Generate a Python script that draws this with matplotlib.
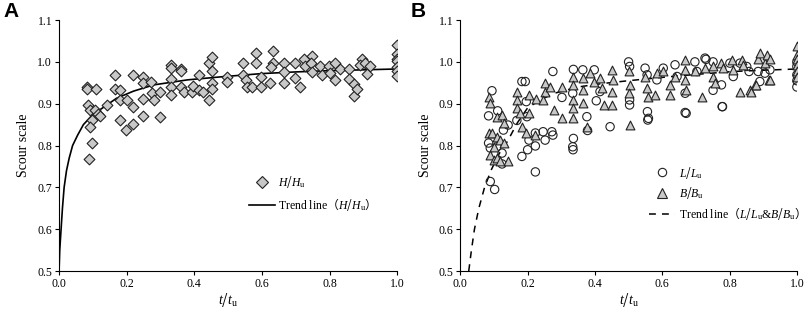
import matplotlib
matplotlib.use("Agg")
import matplotlib.pyplot as plt
from matplotlib.lines import Line2D

plt.rcParams['font.family'] = ['Liberation Serif', 'Noto Sans CJK SC']
plt.rcParams['mathtext.fontset'] = 'custom'
plt.rcParams['mathtext.it'] = 'Liberation Serif:italic'
plt.rcParams['mathtext.sf'] = 'Liberation Serif'
plt.rcParams['mathtext.rm'] = 'Noto Sans CJK SC'

# panel A: H/Hu
a_t = [0.082, 0.082, 0.108, 0.086, 0.092, 0.106, 0.115, 0.097, 0.121, 0.092, 0.098, 0.089, 0.141,
       0.166, 0.166, 0.18, 0.18, 0.18, 0.197, 0.22, 0.2, 0.22, 0.22, 0.249, 0.249, 0.249, 0.249,
       0.272, 0.274, 0.282, 0.299, 0.299, 0.331, 0.331, 0.331, 0.331, 0.331, 0.361, 0.361, 0.361,
       0.368, 0.392, 0.397, 0.414, 0.414, 0.427, 0.442, 0.452, 0.452, 0.452, 0.452, 0.442, 0.496,
       0.496, 0.545, 0.545, 0.552, 0.555, 0.57, 0.582, 0.582, 0.598, 0.598, 0.634, 0.634, 0.627,
       0.624, 0.664, 0.664, 0.664, 0.698, 0.698, 0.713, 0.723, 0.728, 0.748, 0.746, 0.749, 0.772,
       0.777, 0.797, 0.802, 0.817, 0.817, 0.831, 0.856, 0.856, 0.871, 0.873, 0.881, 0.895, 0.891,
       0.905, 0.91, 0.92, 1.0, 1.0, 1.0, 1.0, 1.0, 1.0, 1.0]
a_h = [0.941, 0.934, 0.935, 0.897, 0.884, 0.885, 0.875, 0.861, 0.871, 0.844, 0.806, 0.768, 0.897,
       0.969, 0.935, 0.933, 0.909, 0.861, 0.837, 0.969, 0.909, 0.892, 0.852, 0.965, 0.949, 0.911,
       0.871, 0.953, 0.925, 0.908, 0.929, 0.868, 0.993, 0.985, 0.959, 0.94, 0.921, 0.983, 0.977,
       0.941, 0.929, 0.929, 0.943, 0.969, 0.933, 0.929, 0.998, 1.012, 0.979, 0.95, 0.935, 0.909,
       0.965, 0.953, 0.997, 0.969, 0.957, 0.94, 0.94, 1.022, 0.997, 0.963, 0.94, 1.027, 0.997,
       0.987, 0.95, 0.997, 0.975, 0.95, 0.998, 0.961, 0.94, 1.006, 0.989, 1.014, 0.997, 0.975,
       0.99, 0.969, 0.99, 0.973, 0.997, 0.957, 0.983, 0.983, 0.959, 0.947, 0.919, 0.935, 1.006,
       0.993, 0.997, 0.971, 0.989, 1.041, 1.019, 1.008, 1.001, 0.987, 0.977, 0.967]
a_trend_t = [0.0, 0.002, 0.006, 0.01, 0.015, 0.022, 0.03, 0.04, 0.055, 0.072, 0.095, 0.12, 0.17,
             0.22, 0.28, 0.38, 0.49, 0.6, 0.7, 0.8, 0.9, 1.0]
a_trend_v = [0.5, 0.55, 0.6, 0.65, 0.7, 0.74, 0.77, 0.8, 0.825, 0.85, 0.87, 0.885, 0.913,
             0.93, 0.945, 0.957, 0.965, 0.972, 0.976, 0.979, 0.981, 0.983]

# panel B: L/Lu (circles)
b_t_l = [0.094, 0.084, 0.111, 0.084, 0.089, 0.109, 0.128, 0.142, 0.168, 0.193, 0.183, 0.196, 0.198,
         0.204, 0.223, 0.223, 0.246, 0.252, 0.272, 0.275, 0.275, 0.302, 0.336, 0.334, 0.336, 0.334,
         0.364, 0.376, 0.378, 0.398, 0.404, 0.415, 0.445, 0.5, 0.503, 0.503, 0.503, 0.549, 0.555,
         0.556, 0.559, 0.584, 0.603, 0.638, 0.644, 0.671, 0.668, 0.697, 0.703, 0.73, 0.751, 0.751,
         0.776, 0.779, 0.801, 0.811, 0.831, 0.851, 0.858, 0.885, 0.905, 0.92, 1.0, 1.0, 1.0, 1.0,
         1.0, 0.089, 0.102, 0.124, 0.124, 0.183, 0.223, 0.2, 0.335, 0.557, 0.668, 0.727, 0.778,
         0.89]
b_l = [0.931, 0.871, 0.883, 0.806, 0.794, 0.797, 0.837, 0.849, 0.86, 0.953, 0.953, 0.905, 0.869,
       0.813, 0.799, 0.83, 0.833, 0.813, 0.833, 0.825, 0.977, 0.915, 0.982, 0.925, 0.817, 0.797,
       0.981, 0.869, 0.836, 0.981, 0.907, 0.929, 0.845, 1.0, 0.989, 0.909, 0.897, 0.985, 0.969,
       0.881, 0.865, 0.957, 0.985, 0.993, 0.965, 0.877, 0.925, 1.0, 0.977, 1.006, 1.0, 0.932,
       0.945, 0.893, 0.997, 0.965, 0.997, 0.989, 0.977, 0.977, 0.973, 0.981, 1.0, 0.989, 0.969,
       0.955, 0.94, 0.714, 0.695, 0.756, 0.782, 0.774, 0.737, 0.79, 0.79, 0.861, 0.879, 1.009,
       0.893, 0.953]

# panel B: B/Bu (triangles)
b_t_b = [0.084, 0.087, 0.109, 0.124, 0.129, 0.084, 0.094, 0.109, 0.119, 0.129, 0.099, 0.089, 0.168,
         0.168, 0.168, 0.178, 0.183, 0.196, 0.203, 0.203, 0.226, 0.223, 0.252, 0.252, 0.247, 0.267,
         0.277, 0.302, 0.302, 0.334, 0.334, 0.336, 0.336, 0.334, 0.364, 0.366, 0.366, 0.376, 0.386,
         0.396, 0.415, 0.42, 0.426, 0.45, 0.455, 0.45, 0.45, 0.5, 0.504, 0.5, 0.503, 0.549, 0.555,
         0.559, 0.579, 0.584, 0.603, 0.623, 0.623, 0.638, 0.668, 0.668, 0.668, 0.671, 0.697, 0.717,
         0.727, 0.751, 0.751, 0.757, 0.776, 0.781, 0.806, 0.811, 0.831, 0.836, 0.841, 0.861, 0.875,
         0.885, 0.89, 0.905, 0.91, 0.92, 0.918, 1.0, 1.0, 1.0, 1.0, 1.0, 1.0, 0.099, 0.109, 0.143,
         0.119, 0.864, 0.88, 0.92]
b_b = [0.917, 0.901, 0.869, 0.873, 0.853, 0.829, 0.829, 0.821, 0.813, 0.806, 0.797, 0.777, 0.927,
       0.909, 0.889, 0.877, 0.845, 0.829, 0.921, 0.877, 0.911, 0.825, 0.949, 0.929, 0.909, 0.941,
       0.885, 0.941, 0.865, 0.965, 0.945, 0.909, 0.889, 0.865, 0.961, 0.933, 0.901, 0.845, 0.973,
       0.953, 0.961, 0.937, 0.897, 0.981, 0.957, 0.929, 0.897, 0.977, 0.945, 0.925, 0.849, 0.965,
       0.937, 0.917, 0.921, 0.973, 0.977, 0.945, 0.921, 0.965, 1.004, 0.981, 0.957, 0.933, 0.977,
       0.917, 0.985, 0.989, 0.965, 0.949, 0.997, 0.985, 1.004, 0.981, 0.929, 1.004, 0.993, 0.933,
       0.945, 1.008, 1.021, 0.997, 1.017, 1.006, 0.957, 1.037, 1.017, 1.006, 0.993, 0.977, 0.965,
       0.766, 0.77, 0.762, 0.762, 0.929, 0.945, 0.957]
b_trend_t = [0.025, 0.033, 0.042, 0.055, 0.072, 0.092, 0.115, 0.14, 0.17, 0.2, 0.24, 0.28, 0.35,
             0.42, 0.5, 0.6, 0.7, 0.81, 0.9, 1.0]
b_trend_v = [0.5, 0.55, 0.6, 0.65, 0.7, 0.742, 0.78, 0.81, 0.855, 0.89, 0.91, 0.925, 0.94,
             0.948, 0.955, 0.963, 0.97, 0.977, 0.98, 0.983]

gray = '#c8c8c8'
fig = plt.figure(figsize=(8.09, 3.13), dpi=100)
axA = fig.add_axes([0.073, 0.134, 0.418, 0.802])
axB = fig.add_axes([0.569, 0.134, 0.416, 0.802])

axA.scatter(a_t, a_h, marker='D', s=30, facecolor=gray, edgecolor='#222222', linewidth=0.8, zorder=3)
axA.plot(a_trend_t, a_trend_v, color='black', lw=1.2, zorder=2)

axB.scatter(b_t_l, b_l, marker='o', s=36, facecolor='none', edgecolor='#222222', linewidth=0.8, zorder=3)
axB.scatter(b_t_b, b_b, marker='^', s=40, facecolor=gray, edgecolor='#222222', linewidth=0.8, zorder=3)
axB.plot(b_trend_t, b_trend_v, color='black', lw=1.1, ls=(0, (4.5, 4)), zorder=2)

for ax in (axA, axB):
    ax.set_xlim(0, 1.0)
    ax.set_ylim(0.5, 1.1)
    ax.set_xticks([0.0, 0.2, 0.4, 0.6, 0.8, 1.0])
    ax.set_yticks([0.5, 0.6, 0.7, 0.8, 0.9, 1.0, 1.1])
    ax.set_xticklabels(['0.0', '0.2', '0.4', '0.6', '0.8', '1.0'])
    ax.set_yticklabels(['0.5', '0.6', '0.7', '0.8', '0.9', '1.0', '1.1'])
    ax.spines['top'].set_visible(False)
    ax.spines['right'].set_visible(False)
    ax.tick_params(direction='out', length=3, width=0.8, labelsize=8.5, pad=2)
    ax.set_xlabel(r'$t/t_\mathsf{u}$', fontsize=10, labelpad=1)
    ax.set_ylabel('Scour scale', fontsize=10, labelpad=5)

hA = [Line2D([], [], marker='D', ls='none', ms=6, mfc=gray, mec='#222222', mew=0.8),
      Line2D([], [], color='black', lw=1.2)]
axA.legend(hA, [r'$H/H_\mathsf{u}$', r'Trend line$\mathrm{（}H/H_\mathsf{u}\mathrm{）}$'],
           loc='center left', bbox_to_anchor=(0.53, 0.31), frameon=False, fontsize=8.5,
           handlelength=2.2, handletextpad=0.3, labelspacing=0.5)

hB = [Line2D([], [], marker='o', ls='none', ms=6, mfc='none', mec='#222222', mew=0.8),
      Line2D([], [], marker='^', ls='none', ms=6.5, mfc=gray, mec='#222222', mew=0.8),
      Line2D([], [], color='black', lw=1.1, ls=(0, (4.5, 4)))]
axB.legend(hB, [r'$L/L_\mathsf{u}$', r'$B/B_\mathsf{u}$',
                r'Trend line$\mathrm{（}L/L_\mathsf{u}$&$B/B_\mathsf{u}\mathrm{）}$'],
           loc='center left', bbox_to_anchor=(0.53, 0.31), frameon=False, fontsize=8.5,
           handlelength=2.2, handletextpad=0.3, labelspacing=0.35)

fig.text(0.004, 0.995, 'A', fontsize=15, fontweight='bold', family='Liberation Sans', va='top')
fig.text(0.508, 0.995, 'B', fontsize=15, fontweight='bold', family='Liberation Sans', va='top')

fig.savefig('out.png', dpi=100)
